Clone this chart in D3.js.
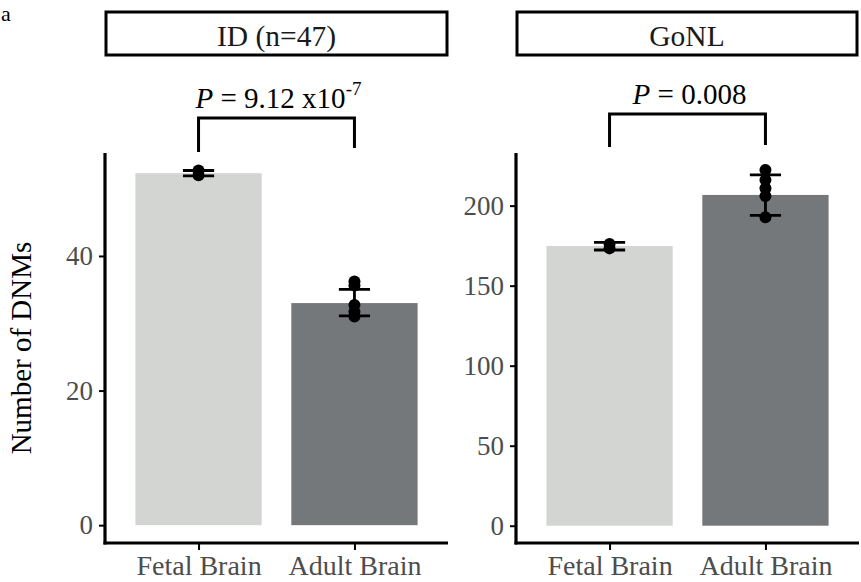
<!DOCTYPE html>
<html>
<head>
<meta charset="utf-8">
<script src="https://cdn.jsdelivr.net/npm/d3@7"></script>
<style>
  body { margin: 0; background: #fff; }
  text { font-family: "Liberation Serif", "Times New Roman", serif; }
</style>
</head>
<body>
<svg id="chart" width="861" height="582"></svg>
<script>
'use strict';

// categories
var groups = ["Fetal Brain", "Adult Brain"];
var panelTitles = ["ID (n=47)", "GoNL"];

// ID panel
var idMeans = [52.3, 33.0];
var idErrLow = [51.9, 31.1];
var idErrHigh = [52.7, 35.05];
var idFetalPoints = [52.0, 52.7];
var idAdultPoints = [36.2, 35.6, 32.7, 31.7, 31.0];
var idTicks = [0, 20, 40];

// GoNL panel
var gonlMeans = [174.8, 206.7];
var gonlErrLow = [172.3, 193.9];
var gonlErrHigh = [177.1, 219.2];
var gonlFetalPoints = [173.3, 176.1];
var gonlAdultPoints = [222.3, 216.0, 210.8, 206.0, 192.7];
var gonlTicks = [0, 50, 100, 150, 200];

// p values
var pValues = ["9.12 x10", "0.008"];
var pExponents = ["-7", ""];

var colors = {
    fetal: "#d3d5d3",
    adult: "#75787b",
    text: "#4d4d4d",
    ink: "#000"
};

var svg = d3.select("#chart");

var plotTop = 153, plotBottom = 543;

var panels = [
    {title: panelTitles[0], means: idMeans, lo: idErrLow, hi: idErrHigh,
     points: [idFetalPoints, idAdultPoints], ticks: idTicks,
     ydom: [-2.65, 55.3], x0: 105, x1: 448, stripX1: 448,
     p: pValues[0], pExp: pExponents[0], bracketY: 118, legs: [152, 148]},
    {title: panelTitles[1], means: gonlMeans, lo: gonlErrLow, hi: gonlErrHigh,
     points: [gonlFetalPoints, gonlAdultPoints], ticks: gonlTicks,
     ydom: [-10.8, 232.9], x0: 516, x1: 859, stripX1: 858,
     p: pValues[1], pExp: pExponents[1], bracketY: 114, legs: [147, 145]}
];

panels.forEach(drawPanel);

// panel tag
svg.append("text")
    .attr("x", 1).attr("y", 21)
    .attr("font-size", 22)
    .attr("fill", colors.ink)
    .text("a");

// y axis title
svg.append("text")
    .attr("transform", "translate(31," + ((plotTop + plotBottom) / 2) + ") rotate(-90)")
    .attr("text-anchor", "middle")
    .attr("font-size", 29)
    .attr("fill", colors.ink)
    .text("Number of DNMs");

function drawPanel(pn) {
    var g = svg.append("g");

    var x = d3.scaleLinear().domain([0.4, 2.6]).range([pn.x0, pn.x1]);
    var y = d3.scaleLinear().domain(pn.ydom).range([plotBottom, plotTop]);
    var barW = x(0.81) - x(0);
    var capW = x(0.2) - x(0);

    // strip
    g.append("rect")
        .attr("x", pn.x0 + 1).attr("y", 12)
        .attr("width", pn.stripX1 - pn.x0 - 2).attr("height", 43)
        .attr("fill", "#fff")
        .attr("stroke", colors.ink)
        .attr("stroke-width", 3);
    g.append("text")
        .attr("x", (pn.x0 + pn.stripX1) / 2).attr("y", 46)
        .attr("text-anchor", "middle")
        .attr("font-size", 29.5)
        .attr("fill", "#1a1a1a")
        .text(pn.title);

    // bars
    g.selectAll("rect.bar")
        .data(pn.means)
        .join("rect")
        .attr("class", "bar")
        .attr("x", function(d, i) { return x(i + 1) - barW / 2; })
        .attr("y", function(d) { return y(d); })
        .attr("width", barW)
        .attr("height", function(d) { return y(0) - y(d); })
        .attr("fill", function(d, i) { return i === 0 ? colors.fetal : colors.adult; });

    // points
    pn.points.forEach(function(vals, i) {
        g.selectAll("circle.p" + i)
            .data(vals)
            .join("circle")
            .attr("class", "p" + i)
            .attr("cx", x(i + 1))
            .attr("cy", function(d) { return y(d); })
            .attr("r", 6)
            .attr("fill", colors.ink);
    });

    // error bars
    pn.means.forEach(function(m, i) {
        var cx = x(i + 1);
        g.append("line")
            .attr("x1", cx).attr("x2", cx)
            .attr("y1", y(pn.lo[i])).attr("y2", y(pn.hi[i]))
            .attr("stroke", colors.ink).attr("stroke-width", 2.8);
        [pn.lo[i], pn.hi[i]].forEach(function(v) {
            g.append("line")
                .attr("x1", cx - capW / 2).attr("x2", cx + capW / 2)
                .attr("y1", y(v)).attr("y2", y(v))
                .attr("stroke", colors.ink).attr("stroke-width", 2.8);
        });
    });

    // axes
    var yAxis = d3.axisLeft(y).tickValues(pn.ticks).tickSize(6).tickPadding(6);
    var ya = g.append("g")
        .attr("transform", "translate(" + pn.x0 + ",0)")
        .call(yAxis);
    ya.select(".domain").remove();
    ya.selectAll(".tick line").attr("stroke", colors.ink).attr("stroke-width", 2);
    ya.selectAll(".tick text")
        .attr("font-size", 27)
        .attr("fill", colors.text)
        .attr("font-family", "Liberation Serif, Times New Roman, serif");

    var xAxis = d3.axisBottom(x).tickValues([1, 2]).tickSize(7).tickPadding(5)
        .tickFormat(function(d) { return groups[d - 1]; });
    var xa = g.append("g")
        .attr("transform", "translate(0," + plotBottom + ")")
        .call(xAxis);
    xa.select(".domain").remove();
    xa.selectAll(".tick line").attr("stroke", colors.ink).attr("stroke-width", 2);
    xa.selectAll(".tick text")
        .attr("font-size", 28)
        .attr("fill", colors.text)
        .attr("font-family", "Liberation Serif, Times New Roman, serif");

    // axis lines
    g.append("line")
        .attr("x1", pn.x0).attr("x2", pn.x0)
        .attr("y1", plotTop).attr("y2", plotBottom + 1.5)
        .attr("stroke", colors.ink).attr("stroke-width", 3.2);
    g.append("line")
        .attr("x1", pn.x0 - 1.5).attr("x2", pn.x1)
        .attr("y1", plotBottom).attr("y2", plotBottom)
        .attr("stroke", colors.ink).attr("stroke-width", 3.2);

    // significance bracket
    var bx0 = x(1), bx1 = x(2);
    g.append("path")
        .attr("d", "M" + bx0 + "," + pn.legs[0] + "V" + pn.bracketY +
                   "H" + bx1 + "V" + pn.legs[1])
        .attr("fill", "none")
        .attr("stroke", colors.ink)
        .attr("stroke-width", 3);

    var t = g.append("text")
        .attr("x", (bx0 + bx1) / 2 + 2)
        .attr("y", pn.bracketY - 10)
        .attr("text-anchor", "middle")
        .attr("font-size", 29)
        .attr("fill", colors.ink);
    t.append("tspan").attr("font-style", "italic").text("P");
    t.append("tspan").text(" = " + pn.p);
    if (pn.pExp) {
        t.append("tspan").attr("dy", -13).attr("font-size", 19).text(pn.pExp);
    }
}
</script>
</body>
</html>
